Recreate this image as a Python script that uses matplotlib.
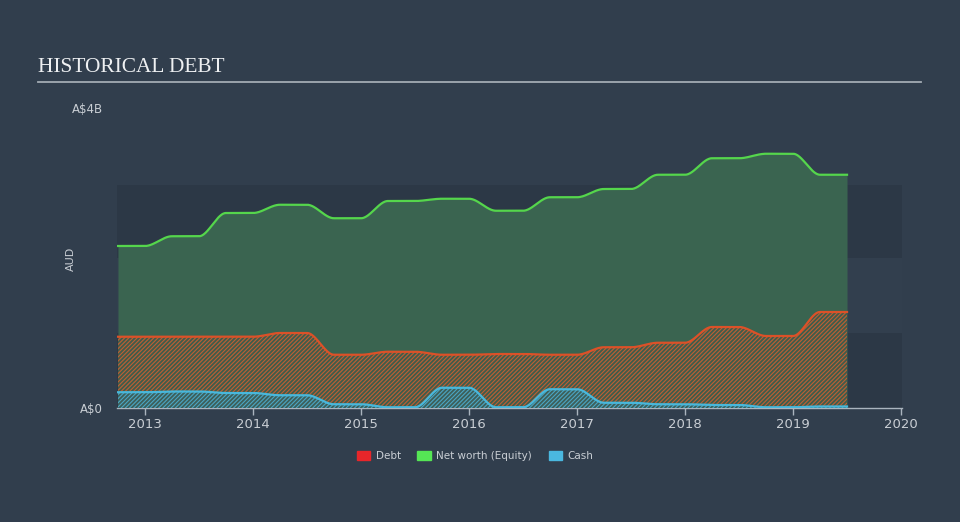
import numpy as np
import matplotlib
matplotlib.use("Agg")
import matplotlib.pyplot as plt
from matplotlib.patches import Patch

# ---- data (billions AUD), quarterly sampling of semi-annual reports ----
dates = [2012.75, 2013.0, 2013.25, 2013.5, 2013.75, 2014.0, 2014.25, 2014.5,
         2014.75, 2015.0, 2015.25, 2015.5, 2015.75, 2016.0, 2016.25, 2016.5,
         2016.75, 2017.0, 2017.25, 2017.5, 2017.75, 2018.0, 2018.25, 2018.5,
         2018.75, 2019.0, 2019.25, 2019.5]
equity = [2.16, 2.16, 2.29, 2.29, 2.60, 2.60, 2.71, 2.71,
          2.53, 2.53, 2.76, 2.76, 2.79, 2.79, 2.63, 2.63,
          2.81, 2.81, 2.92, 2.92, 3.11, 3.11, 3.33, 3.33,
          3.39, 3.39, 3.11, 3.11]
debt = [0.95, 0.95, 0.95, 0.95, 0.95, 0.95, 1.00, 1.00,
        0.71, 0.71, 0.75, 0.75, 0.71, 0.71, 0.72, 0.72,
        0.71, 0.71, 0.81, 0.81, 0.87, 0.87, 1.08, 1.08,
        0.96, 0.96, 1.28, 1.28]
cash = [0.21, 0.21, 0.22, 0.22, 0.20, 0.20, 0.17, 0.17,
        0.05, 0.05, 0.01, 0.01, 0.27, 0.27, 0.01, 0.01,
        0.25, 0.25, 0.07, 0.07, 0.05, 0.05, 0.04, 0.04,
        0.01, 0.01, 0.02, 0.02]
xticks = [2013, 2014, 2015, 2016, 2017, 2018, 2019, 2020]
ytick_vals = [0, 4]
ytick_labels = ["A$0", "A$4B"]


def pchip(x, y, xs):
    x = np.asarray(x, float); y = np.asarray(y, float)
    h = np.diff(x); d = np.diff(y) / h
    n = len(x); m = np.zeros(n)
    for k in range(1, n - 1):
        if d[k - 1] * d[k] > 0:
            w1 = 2 * h[k] + h[k - 1]; w2 = h[k] + 2 * h[k - 1]
            m[k] = (w1 + w2) / (w1 / d[k - 1] + w2 / d[k])
    idx = np.clip(np.searchsorted(x, xs) - 1, 0, n - 2)
    t = (xs - x[idx]) / h[idx]
    h00 = 2 * t**3 - 3 * t**2 + 1; h10 = t**3 - 2 * t**2 + t
    h01 = -2 * t**3 + 3 * t**2; h11 = t**3 - t**2
    return h00 * y[idx] + h10 * h[idx] * m[idx] + h01 * y[idx + 1] + h11 * h[idx] * m[idx + 1]


xs = np.linspace(dates[0], dates[-1], 1200)
eq_s = pchip(dates, equity, xs)
de_s = pchip(dates, debt, xs)
ca_s = pchip(dates, cash, xs)

BG = "#313e4d"
DARK = "#2c3846"
GREEN = "#55d64c"
RED = "#dc5128"
BLUE = "#48b8dc"
TXT = "#c9ced4"

plt.rcParams["hatch.linewidth"] = 0.8
fig = plt.figure(figsize=(9.6, 5.22), dpi=100, facecolor=BG)
ax = fig.add_axes([117 / 960, 1 - 408 / 522, (902 - 117) / 960, 300 / 522])
ax.set_facecolor("none")
ax.set_xlim(2012.741, 2020.009)
ax.set_ylim(0, 4)

# background bands
ax.axhspan(0, 1, color=DARK, lw=0, zorder=0)
ax.axhspan(1, 2, color="#323f4e", lw=0, zorder=0)
ax.axhspan(2, 2.97, color=DARK, lw=0, zorder=0)

ax.fill_between(xs, 0, eq_s, color="#3a6450", lw=0, zorder=1)
ax.fill_between(xs, 0, de_s, facecolor="#3f5c4b", edgecolor="#c05f33", hatch="/" * 8, lw=0, zorder=2)
ax.fill_between(xs, 0, ca_s, facecolor="#3d5f5a", edgecolor="#4aa6c4", hatch="/" * 8, lw=0, zorder=3)
ax.plot(xs, eq_s, color=GREEN, lw=1.6, zorder=4)
ax.plot(xs, de_s, color=RED, lw=1.6, zorder=4)
ax.plot(xs, ca_s, color=BLUE, lw=1.6, zorder=4)

for s in ["top", "right", "left"]:
    ax.spines[s].set_visible(False)
ax.spines["bottom"].set_color("#aab4be")
ax.spines["bottom"].set_linewidth(1.0)
ax.set_xticks(xticks)
ax.set_xticklabels([str(v) for v in xticks])
ax.tick_params(axis="x", colors="#aab4be", labelcolor=TXT, length=5, width=1, labelsize=9.5, pad=2)
ax.set_yticks(ytick_vals)
ax.set_yticklabels(ytick_labels)
ax.tick_params(axis="y", length=0, labelcolor=TXT, labelsize=8.5, pad=10)
ax.set_ylabel("AUD", color=TXT, fontsize=8)
ax.yaxis.set_label_coords(-0.052, 0.497)

fig.text(38 / 960, 1 - 67 / 522, "HISTORICAL DEBT", family="Liberation Serif",
         fontsize=15.4, color="#eef0f2", va="center", ha="left")
fig.add_artist(plt.Line2D([38 / 960, 921 / 960], [1 - 82 / 522, 1 - 82 / 522],
                          color="#a3abb3", lw=1.3))

handles = [Patch(color="#e8262a", label="Debt"),
           Patch(color="#55e655", label="Net worth (Equity)"),
           Patch(color="#4ab8e0", label="Cash")]
fig.legend(handles=handles, loc="center", bbox_to_anchor=(475 / 960, 1 - 456 / 522),
           ncol=3, frameon=False, fontsize=7.5, labelcolor=TXT,
           handlelength=1.3, handleheight=1.0, columnspacing=1.6, handletextpad=0.5)

fig.savefig("out.png", dpi=100, facecolor=BG)
